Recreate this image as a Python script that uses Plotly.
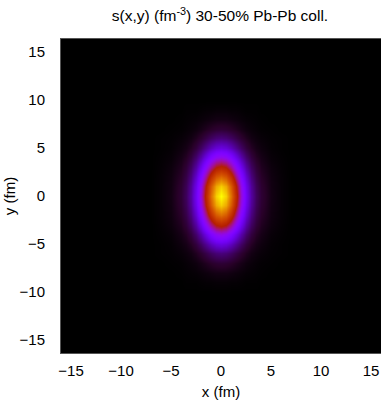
import numpy as np
import plotly.graph_objects as go

# ---- data: entropy density s(x,y) (one quadrant, normalised to peak) ----
x_nodes = [0, 0.5, 1, 1.5, 2, 2.5, 3, 3.5, 4, 5, 6, 7]          # fm
y_nodes = [0, 1, 2, 3, 4, 5, 6, 7, 8, 9, 10]                    # fm
# rows: y_nodes, columns: x_nodes
s_quadrant = [
    [1.000, 0.934, 0.761, 0.545, 0.346, 0.199, 0.109, 0.059, 0.033, 0.012, 0.004, 0.0],
    [0.931, 0.870, 0.709, 0.508, 0.323, 0.186, 0.102, 0.055, 0.031, 0.011, 0.004, 0.0],
    [0.752, 0.703, 0.573, 0.412, 0.263, 0.153, 0.084, 0.046, 0.026, 0.010, 0.004, 0.0],
    [0.527, 0.493, 0.403, 0.291, 0.188, 0.110, 0.062, 0.035, 0.020, 0.008, 0.003, 0.0],
    [0.321, 0.301, 0.247, 0.179, 0.117, 0.070, 0.040, 0.023, 0.014, 0.005, 0.002, 0.0],
    [0.171, 0.160, 0.132, 0.097, 0.064, 0.039, 0.023, 0.014, 0.009, 0.003, 0.001, 0.0],
    [0.080, 0.075, 0.062, 0.046, 0.031, 0.020, 0.012, 0.008, 0.005, 0.002, 0.001, 0.0],
    [0.033, 0.031, 0.026, 0.020, 0.014, 0.009, 0.006, 0.004, 0.002, 0.001, 0.0, 0.0],
    [0.012, 0.012, 0.010, 0.008, 0.006, 0.004, 0.003, 0.002, 0.001, 0.0, 0.0, 0.0],
    [0.004, 0.004, 0.003, 0.003, 0.002, 0.001, 0.001, 0.001, 0.0, 0.0, 0.0, 0.0],
    [0.0, 0.0, 0.0, 0.0, 0.0, 0.0, 0.0, 0.0, 0.0, 0.0, 0.0, 0.0],
]
tick_vals = [-15, -10, -5, 0, 5, 10, 15]
title_text = "s(x,y) (fm<sup>-3</sup>) 30-50% Pb-Pb coll."

# mirror the quadrant to the full plane (field is symmetric in x and y)
q = np.array(s_quadrant)
xs = np.array(x_nodes, dtype=float)
ys = np.array(y_nodes, dtype=float)
x_full = np.concatenate([-xs[:0:-1], xs])
y_full = np.concatenate([-ys[:0:-1], ys])
half_x = np.concatenate([q[:, :0:-1], q], axis=1)
z_full = np.concatenate([half_x[:0:-1, :], half_x], axis=0)

# gnuplot default pm3d palette (rgbformulae 7,5,15)
stops = np.linspace(0, 1, 41)
cscale = []
for t in stops:
    r = np.sqrt(t)
    g = t ** 3
    b = max(0.0, np.sin(2 * np.pi * t))
    cscale.append([float(t), f"rgb({int(round(255*r))},{int(round(255*g))},{int(round(255*b))})"])

fig = go.Figure(go.Heatmap(
    x=x_full, y=y_full, z=z_full,
    colorscale=cscale, zmin=0, zmax=1, zsmooth="best",
    showscale=False, hoverinfo="skip",
))

fam = "Liberation Sans, Arial, sans-serif"
tick_font = dict(family=fam, size=15, color="#000")
lab_font = dict(family=fam, size=15, color="#000")
axis_common = dict(tickvals=tick_vals, showgrid=False, zeroline=False,
                   showline=True, linecolor="#555", linewidth=1, mirror=True,
                   ticks="", tickfont=tick_font)
fig.update_layout(
    width=381, height=406,
    margin=dict(l=61, r=0, t=39, b=53),
    paper_bgcolor="white", plot_bgcolor="black",
    font=tick_font,
    title=dict(text=title_text, x=220/381, xanchor="center", y=1 - 16/406, yanchor="middle",
               font=dict(family=fam, size=15.5, color="#000")),
    xaxis=dict(**axis_common, range=[-16, 16],
               title=dict(text="x (fm)", standoff=8, font=lab_font), ticklabelstandoff=4),
    yaxis=dict(**axis_common, range=[-16.35, 16.35],
               title=dict(text="y (fm)", standoff=0, font=lab_font), ticklabelstandoff=12),
)
fig.write_html("out.html")
